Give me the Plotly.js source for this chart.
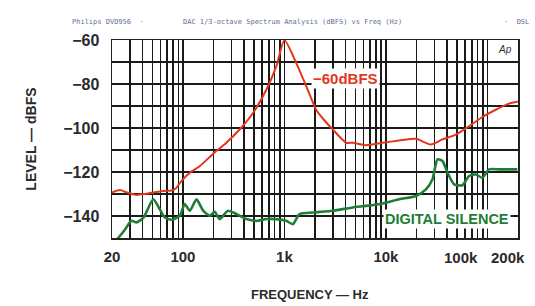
<!DOCTYPE html>
<html><head><meta charset="utf-8">
<script src="https://cdn.plot.ly/plotly-3.0.1.min.js"></script>
<style>body{margin:0;background:#fff}#c{width:535px;height:306px}</style>
</head><body><div id="c"></div>
<script>
const redFreq = [20, 24, 28, 35, 42, 51, 64, 77, 85, 97, 117, 147, 195, 268, 362, 490, 663, 831, 1000, 1307, 1639, 2055, 2400, 2992, 4053, 4704, 6371, 9277, 13539, 19752, 27740, 36060, 48840, 65980, 89160, 120800, 163100, 200000];
const redLevel = [-129.3, -128.2, -129.3, -130.4, -130, -129.3, -128.6, -128.4, -127.5, -124, -120.3, -117.3, -112, -106.7, -100.7, -93.2, -82.6, -72, -60, -70.5, -81, -91.7, -95.8, -100.7, -106.7, -106.7, -107.8, -106.7, -105.7, -104.9, -107.5, -105.2, -103, -99.2, -95, -91.7, -88.9, -87.9];
const greenFreq = [20, 23, 27, 31, 35, 41, 51, 59, 66, 77, 93, 104, 117, 136, 158, 184, 206, 230, 278, 336, 422, 529, 663, 831, 1042, 1210, 1408, 1902, 2992, 4704, 6371, 9277, 13539, 19752, 24770, 28750, 32200, 36060, 40390, 47000, 56720, 65980, 76800, 89160, 103800, 130200, 196800];
const greenLevel = [-153, -150, -146, -142.2, -142.9, -140.6, -132.4, -136.9, -140.6, -141.7, -139.9, -134.6, -137.6, -132.4, -137.6, -139.9, -138.1, -141.4, -137.6, -139.1, -141.4, -142.2, -141.4, -141.4, -142.2, -143.7, -139.1, -138.4, -137.6, -136.1, -135.4, -134.3, -132.4, -130.9, -127.9, -123.3, -114.3, -115, -120.3, -125.6, -126, -121.8, -121.1, -122.6, -118.8, -118.8, -118.8];
const xTickVals = [20, 100, 1000, 10000];
const xTickText = ['20', '100', '1k', '10k'];
const xEdgeVals = [100000, 200000];
const xEdgeText = ['100k', '200k'];
const yTickVals = [-60, -80, -100, -120, -140];
const yTickText = ['−60', '−80', '−100', '−120', '−140'];
const headerParts = ['Philips DVD956  ·', 'DAC 1/3-octave Spectrum Analysis (dBFS) vs Freq (Hz)', '·  DSL'];

// grid positions (1..9 x decade) for the chart paper
const gridX = [];
for (let d = 10; d <= 100000; d *= 10) for (let m = 1; m <= 9; m++) { const v = m * d; if (v >= 20 && v <= 200000) gridX.push(v); }
gridX.push(200000);

const font = 'Liberation Sans, Arial, sans-serif';
const hdr = {family: 'DejaVu Sans Mono, monospace', size: 7, color: '#5b6f98'};
const tickFont = {family: font, size: 15, color: '#2a2a2a', weight: 'bold'};
const traces = [
  {x: redFreq, y: redLevel, mode: 'lines', line: {color: '#e2361c', width: 2, shape: 'spline', smoothing: 0.6}, hoverinfo: 'skip'},
  {x: greenFreq, y: greenLevel, mode: 'lines', line: {color: '#1f7d36', width: 2.6, shape: 'spline', smoothing: 0.6}, hoverinfo: 'skip'}
];
const layout = {
  width: 535, height: 306,
  margin: {l: 112, r: 17, t: 40, b: 68},
  paper_bgcolor: '#fff', plot_bgcolor: '#fff',
  showlegend: false,
  xaxis: {
    type: 'log', range: [Math.log10(20), Math.log10(200000)],
    tickmode: 'array', tickvals: xTickVals, ticktext: xTickText, tickangle: 0,
    ticks: '', showgrid: false, zeroline: false, ticklabelstandoff: 4,
    showline: true, mirror: true, linecolor: '#222', linewidth: 1.5,
    tickfont: tickFont,
    minor: {tickmode: 'array', tickvals: gridX, showgrid: true, gridcolor: '#1a1a1a', gridwidth: 1.6, ticks: ''}
  },
  yaxis: {
    range: [-150, -60],
    tickmode: 'array', tickvals: yTickVals, ticktext: yTickText, ticklabelstandoff: 8,
    ticks: '', showgrid: true, gridcolor: '#1a1a1a', gridwidth: 1.6, zeroline: false,
    showline: true, mirror: true, linecolor: '#222', linewidth: 1.5,
    tickfont: {family: font, size: 16, color: '#2a2a2a', weight: 'bold'},
    minor: {dtick: 10, showgrid: true, gridcolor: '#1a1a1a', gridwidth: 1.6, ticks: ''}
  },
  annotations: [
    {text: headerParts[0], xref: 'paper', yref: 'paper', x: -0.103, xanchor: 'left', y: 1.0, yshift: 24, showarrow: false, font: hdr},
    {text: headerParts[1], xref: 'paper', yref: 'paper', x: 0.17, xanchor: 'left', y: 1.0, yshift: 24, showarrow: false, font: hdr},
    {text: headerParts[2], xref: 'paper', yref: 'paper', x: 0.96, xanchor: 'left', y: 1.0, yshift: 24, showarrow: false, font: hdr},
    {text: xEdgeText[0], xref: 'x', yref: 'paper', x: Math.log10(xEdgeVals[0]), y: 0, yanchor: 'top', yshift: -9, xshift: -26, showarrow: false, font: tickFont},
    {text: xEdgeText[1], xref: 'x', yref: 'paper', x: Math.log10(xEdgeVals[1]), y: 0, yanchor: 'top', yshift: -9, xshift: -10, showarrow: false, font: tickFont},
    {text: '−60dBFS', xref: 'x', yref: 'y', x: Math.log10(4000), y: -77.5, showarrow: false,
     bgcolor: '#fff', borderpad: 1, font: {family: font, size: 15, color: '#e2361c', weight: 'bold'}},
    {text: 'DIGITAL SILENCE', xref: 'x', yref: 'y', x: Math.log10(40000), y: -141.5, showarrow: false,
     bgcolor: '#fff', borderpad: 1, font: {family: font, size: 14.5, color: '#1f7d36', weight: 'bold'}},
    {text: '<i>Ap</i>', xref: 'paper', yref: 'paper', x: 0.99, y: 0.99, xanchor: 'right', yanchor: 'top', showarrow: false,
     bgcolor: '#fff', font: {family: font, size: 10, color: '#333'}},
    {text: 'LEVEL — dBFS', xref: 'paper', yref: 'paper', x: -0.225, y: 0.5, textangle: -90, showarrow: false,
     font: {family: font, size: 14, color: '#2a2a2a', weight: 'bold'}},
    {text: 'FREQUENCY — Hz', xref: 'paper', yref: 'paper', x: 0.488, y: 0, yshift: -66, showarrow: false,
     font: {family: font, size: 13, color: '#2a2a2a', weight: 'bold'}}
  ]
};
Plotly.newPlot('c', traces, layout, {staticPlot: true});
</script></body></html>
